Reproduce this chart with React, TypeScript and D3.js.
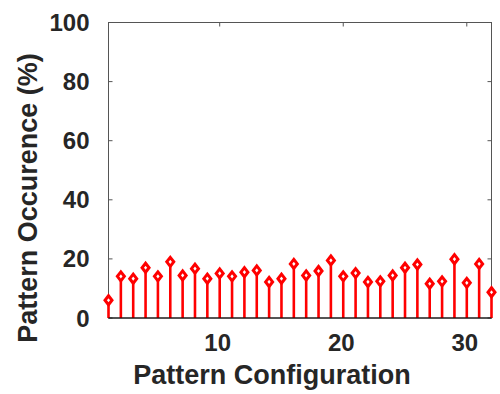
import React from 'react';
import * as d3 from 'd3';

// pattern configurations 1..32 and their occurrence (%)
const configs: number[] = d3.range(1, 33);
const occurrence: number[] = [
  6.0, 14.1, 13.3, 17.0, 14.1, 19.0, 14.4, 16.7, 13.3, 15.1,
  14.1, 15.5, 16.1, 12.2, 13.3, 18.3, 14.4, 15.9, 19.5, 14.1,
  15.2, 12.2, 12.4, 14.4, 17.0, 18.1, 11.6, 12.4, 19.9, 11.9,
  18.3, 8.7,
];
const xTicks: number[] = [10, 20, 30];
const yTicks: number[] = [0, 20, 40, 60, 80, 100];

const W = 500;
const H = 394;
const margin = { top: 22.5, right: 8.5, bottom: 76, left: 108.5 };
const textColor = '#262626';
const axisColor = '#555';
const font = '"Liberation Sans", Arial, Helvetica, sans-serif';

export default function App() {
  const x = d3.scaleLinear().domain([1, 32]).range([margin.left, W - margin.right]);
  const y = d3.scaleLinear().domain([0, 100]).range([H - margin.bottom, margin.top]);
  const [x0, x1] = x.range();
  const [yb, yt] = y.range();
  const tick = 4;

  const diamond = (cx: number, cy: number) =>
    `M${cx},${cy - 4.5} L${cx + 3.5},${cy} L${cx},${cy + 4.5} L${cx - 3.5},${cy} Z`;

  return (
    <svg
      width={W}
      height={H}
      style={{ position: 'absolute', left: 0, top: 0, background: '#fff' }}
      fontFamily={font}
    >
      {/* box */}
      <rect x={x0} y={yt} width={x1 - x0} height={yb - yt} fill="none" stroke={axisColor} strokeWidth={1} />

      {/* y ticks */}
      {yTicks.map((t) => (
        <g key={'y' + t}>
          <line x1={x0} x2={x0 + tick} y1={y(t)} y2={y(t)} stroke={axisColor} />
          <line x1={x1} x2={x1 - tick} y1={y(t)} y2={y(t)} stroke={axisColor} />
          <text
            x={x0 - 19}
            y={y(t)}
            textAnchor="end"
            dominantBaseline="central"
            fontSize={24}
            fontWeight="bold"
            fill={textColor}
          >
            {t}
          </text>
        </g>
      ))}

      {/* x ticks */}
      {xTicks.map((t) => (
        <g key={'x' + t}>
          <line x1={x(t)} x2={x(t)} y1={yb} y2={yb - tick} stroke={axisColor} />
          <line x1={x(t)} x2={x(t)} y1={yt} y2={yt + tick} stroke={axisColor} />
          <text x={x(t) - 2} y={351} textAnchor="middle" fontSize={24} fontWeight="bold" fill={textColor}>
            {t}
          </text>
        </g>
      ))}

      {/* stems */}
      {configs.map((c, i) => (
        <line
          key={'s' + c}
          x1={x(c)}
          x2={x(c)}
          y1={yb}
          y2={y(occurrence[i])}
          stroke="#ff0000"
          strokeWidth={2.6}
        />
      ))}

      {/* baseline */}
      <line x1={x0} x2={x1} y1={yb} y2={yb} stroke="#000" strokeWidth={1} />

      {/* markers */}
      {configs.map((c, i) => (
        <path
          key={'m' + c}
          d={diamond(x(c), y(occurrence[i]))}
          fill="#fff"
          stroke="#ff0000"
          strokeWidth={3}
        />
      ))}

      {/* axis labels */}
      <text x={272} y={384} textAnchor="middle" fontSize={27} fontWeight="bold" fill={textColor}>
        Pattern Configuration
      </text>
      <text
        transform={`translate(36.5,198) rotate(-90)`}
        textAnchor="middle"
        fontSize={27}
        fontWeight="bold"
        fill={textColor}
      >
        Pattern Occurence (%)
      </text>
    </svg>
  );
}
